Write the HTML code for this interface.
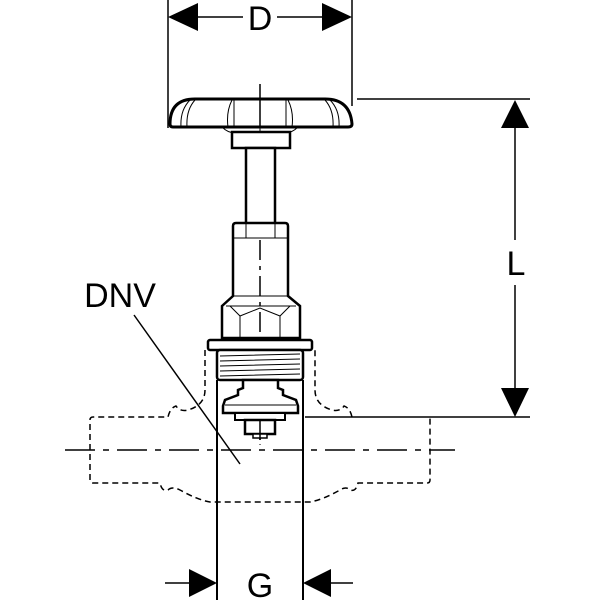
<!DOCTYPE html>
<html><head><style>body{margin:0;background:#fff}svg{display:block}</style></head><body>
<svg width="600" height="600" viewBox="0 0 600 600" xmlns="http://www.w3.org/2000/svg" font-family="Liberation Sans, sans-serif">
<g stroke="#000" fill="none">
<!-- D dimension -->
<line x1="168" y1="0" x2="168" y2="128" stroke-width="1.5"/>
<line x1="352" y1="0" x2="352" y2="106" stroke-width="1.5"/>
<line x1="196" y1="17" x2="243" y2="17" stroke-width="1.5"/>
<line x1="277" y1="17" x2="324" y2="17" stroke-width="1.5"/>
<!-- L dimension -->
<line x1="357" y1="99" x2="530" y2="99" stroke-width="1.5"/>
<line x1="305" y1="417" x2="530" y2="417" stroke-width="1.5"/>
<line x1="515" y1="128" x2="515" y2="240" stroke-width="1.5"/>
<line x1="515" y1="285" x2="515" y2="388" stroke-width="1.5"/>
<!-- G -->
<line x1="217" y1="380" x2="217" y2="600" stroke-width="2"/>
<line x1="303" y1="380" x2="303" y2="600" stroke-width="2"/>
<line x1="165" y1="583" x2="190" y2="583" stroke-width="1.5"/>
<line x1="330" y1="583" x2="353" y2="583" stroke-width="1.5"/>
<!-- DNV leader -->
<line x1="134" y1="315" x2="240" y2="464" stroke-width="1.5"/>
<!-- centerlines -->
<line x1="65" y1="450" x2="455" y2="450" stroke-width="1.5" stroke-dasharray="30,8,6,8"/>
<line x1="260" y1="84" x2="260" y2="445" stroke-width="1" stroke-dasharray="20,6,4,6"/>
<!-- dashed pipe -->
<path d="M205,350 L205,390 Q205,405 188,410 Q180,412 176,406 Q170,408 168,417 L93,417 Q90,417 90,420 L90,480 Q90,483 93,483 L160,483 Q162,492 168,490 Q172,486 180,490 Q198,500 210,502 L310,502 Q322,500 340,490 Q346,486 350,490 Q356,492 358,483 L427,483 Q430,483 430,480 L430,417 M352,417 Q350,408 344,406 Q340,412 332,410 Q315,405 315,390 L315,350" stroke-width="1.5" stroke-dasharray="6,4"/>
<!-- handle -->
<path d="M170,124 Q170,99 195,99 L325,99 Q350,99 352,124 Q352,127 348,127 L173,127 Q170,127 170,124 Z" stroke-width="3" fill="#fff"/>
<path d="M190,100 Q180,110 181,127 M195,100 Q186,110 187,127 M232,100 Q226,112 228,127 M234,100 L234,127 M286,100 L286,127 M288,100 Q294,112 292,127 M330,100 Q340,110 339,127 M325,100 Q334,110 333,127" stroke-width="1"/>
<line x1="260" y1="84" x2="260" y2="127" stroke-width="1.5"/>
<path d="M222,127 Q230,135 240,132 Q260,136 280,132 Q290,135 298,127" stroke-width="1"/>
<rect x="232" y="132" width="58" height="16" stroke-width="2.5" fill="#fff"/>
<rect x="246" y="148" width="29" height="76" stroke-width="2.5" fill="#fff"/>
<!-- upper body -->
<path d="M233,226 Q233,223 236,223 L285,223 Q288,223 288,226 L288,296 L300,306 L300,338 L222,338 L222,306 L233,296 Z" stroke-width="2.5" fill="#fff"/>
<path d="M233,238 L288,238 M246,224 L246,238 M275,224 L275,238 M233,296 L288,296 M226,306 L296,306 M230,306 L240,316 L260,308 L280,316 L290,306 M240,316 L240,338 M280,316 L280,338" stroke-width="1"/>
<line x1="260" y1="240" x2="260" y2="440" stroke-width="1.5" stroke-dasharray="20,6,4,6"/>
<!-- flange -->
<rect x="208" y="340" width="104" height="10" rx="2" stroke-width="2.5" fill="#fff"/>
<rect x="217" y="350" width="86" height="30" rx="3" stroke-width="2.5" fill="#fff"/>
<path d="M220,356 L300,354 M220,361 L300,359 M220,366 L300,364 M220,371 L300,369 M220,376 L300,374" stroke-width="1"/>
<!-- lower -->
<path d="M243,380 L278,380 L278,388 L283,390 L283,395 L296,400 L298,406 L298,413 L223,413 L223,406 L225,400 L238,395 L238,390 L243,388 Z" stroke-width="2.5" fill="#fff"/>
<line x1="225" y1="405" x2="296" y2="405" stroke-width="1"/>
<rect x="235" y="413" width="50" height="7" stroke-width="2" fill="#fff"/>
<rect x="245" y="420" width="30" height="14" stroke-width="2.5" fill="#fff"/>
<rect x="253" y="434" width="14" height="4" stroke-width="1.5" fill="#fff"/>
<line x1="260" y1="420" x2="260" y2="440" stroke-width="1.5"/>
</g>
<g fill="#000">
<polygon points="168,17 198,3 198,31"/>
<polygon points="352,17 322,3 322,31"/>
<polygon points="515,100 501,128 529,128"/>
<polygon points="515,417 501,388 529,388"/>
<polygon points="217,583 189,569 189,597"/>
<polygon points="303,583 331,569 331,597"/>
</g>
<g font-size="34" text-anchor="middle">
<text x="260" y="30">D</text>
<text x="516" y="275">L</text>
<text x="260" y="597">G</text>
<text x="120" y="307">DNV</text>
</g>
</svg>
</body></html>
